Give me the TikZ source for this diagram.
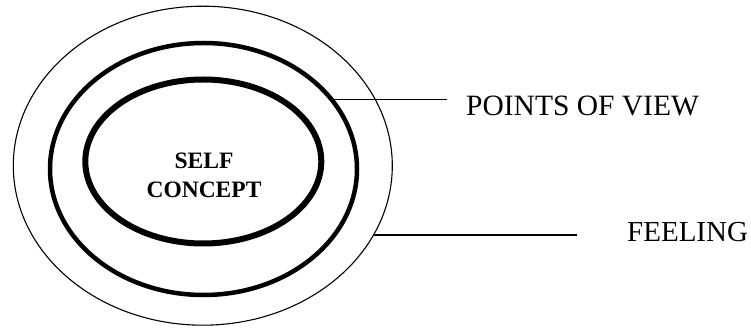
\documentclass[tikz,border=0pt]{standalone}
\usepackage{fontspec}
\setmainfont{Liberation Serif}
\usetikzlibrary{shapes.geometric}

\begin{document}
\begin{tikzpicture}[
  x=1pt,y=-1pt,
  ring/.style={draw,ellipse,inner sep=0pt,minimum width=#1},
  lbl/.style={inner sep=0pt,anchor=base west,font=\fontsize{29.5}{34}\selectfont},
  core/.style={font=\bfseries\fontsize{23.5}{29}\selectfont,align=center,inner sep=0pt},
  lead/.style={line width=1.2pt}]
\useasboundingbox (0,0) rectangle (751,328);
% ---- rings ----
\node[ring=379pt,minimum height=319pt,line width=1.1pt] (feel) at (202.8,165.7) {};
\node[ring=307pt,minimum height=252pt,line width=4.5pt] (view) at (203.5,169) {};
\node[ring=236pt,minimum height=164pt,line width=6pt] (self) at (203.3,161.5) {};
\node[core] (selftxt) at (204,175.5) {SELF\\CONCEPT};
% ---- labels ----
\node[lbl] (pv) at (466,116) {POINTS OF VIEW};
\node[lbl,font=\fontsize{29}{34}\selectfont] (fl) at (627,242) {FEELING};
\draw[lead,shorten >=19pt] (view.28.4) -- (view.28.4 -| pv.west);
\draw[lead,shorten >=50pt] (feel.-22.4) -- (feel.-22.4 -| fl.west);
\end{tikzpicture}
\end{document}
